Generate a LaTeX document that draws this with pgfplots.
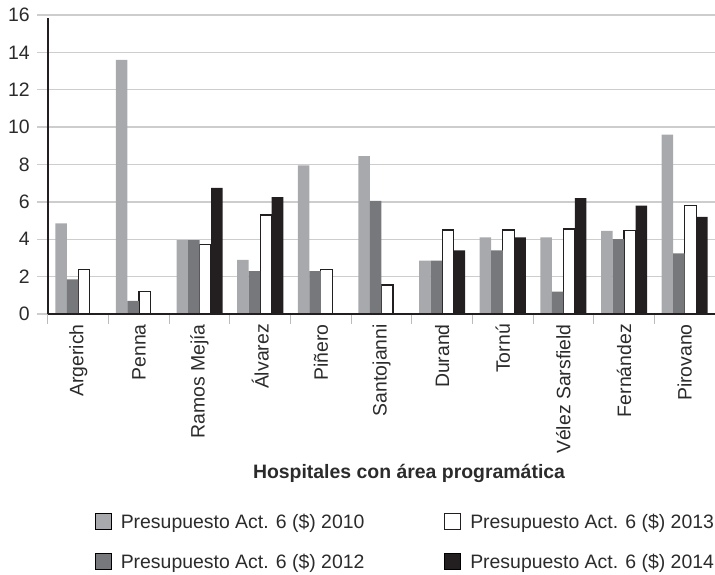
\documentclass[border=0pt]{standalone}
\usepackage{fontspec}
\setmainfont{Liberation Sans}
\setsansfont{Liberation Sans}
\usepackage{pgfplots}
\pgfplotsset{compat=1.18}
\definecolor{cA}{HTML}{A7A9AC}
\definecolor{cB}{HTML}{77787B}
\definecolor{cD}{HTML}{231F20}
\definecolor{gridc}{HTML}{CDCDCD}
\definecolor{tickc}{HTML}{BBBBBB}
\definecolor{txt}{HTML}{2B2B2B}
\newcommand{\lblfont}{\fontsize{19.5}{23}\selectfont}
\pgfplotsset{sqlegend/.style={legend image code/.code={\draw[##1,line width=0.8bp] (0bp,-6bp) rectangle (16bp,10bp);}}}
\begin{document}
\begin{tikzpicture}
\useasboundingbox (0,0) rectangle (715bp,575bp);
\begin{axis}[
  at={(37bp,261bp)}, anchor=south west,
  width=678bp, height=299bp, scale only axis,
  xmin=-0.681, xmax=10.5, ymin=0, ymax=16,
  clip=false,
  ybar, bar width=0.19,
  axis line style={draw=none},
  ytick={0,2,...,16},
  ymajorgrids, grid style={gridc, line width=1.3bp},
  major tick length=0pt,
  xtick={0,...,10},
  xticklabels={Argerich,Penna,Ramos Mejía,Álvarez,Piñero,Santojanni,Durand,Tornú,Vélez Sarsfield,Fernández,Pirovano},
  minor xtick={-0.5,0.5,...,10.5},
  minor tick length=10bp,
  tick align=outside, tick pos=left,
  minor tick style={tickc, line width=1bp},
  /pgf/number format/assume math mode=true,
  xticklabel style={rotate=90, anchor=east, inner sep=0pt, font=\lblfont, text=txt},
  xticklabel shift=10bp,
  yticklabel style={anchor=east, inner sep=0pt, font=\lblfont, text=txt},
  yticklabel shift=7bp,
  xlabel={Hospitales con área programática},
  xlabel style={at={(axis description cs:0.5487,-0.5485)}, anchor=base, font=\bfseries\lblfont, text=txt},
  legend columns=2,
  legend cell align=left,
  legend style={draw=none, fill=none, at={(axis description cs:0.0855,-0.6656)}, anchor=north west,
    inner sep=0pt, outer sep=0pt, font=\lblfont, text=txt, row sep=21bp,
    nodes={inner sep=0pt, text height=14bp, text depth=4bp},
    /tikz/every odd column/.append style={column sep=9bp},
    /tikz/every even column/.append style={column sep=80bp}},
]
% 2010
\addplot[fill=cA, draw=none, bar shift=-0.285, sqlegend] coordinates {
(0,4.85) (1,13.6) (2,3.95) (3,2.9) (4,7.95) (5,8.45) (6,2.85) (7,4.1) (8,4.1) (9,4.45) (10,9.6)};
\addlegendentry{Presupuesto Act. 6 (\$) 2010}
% 2013
\addplot[fill=white, draw=cD, line width=1.2bp, bar shift=0.095, sqlegend] coordinates {
(0,2.4) (1,1.2) (2,3.7) (3,5.3) (4,2.4) (5,1.55) (6,4.5) (7,4.5) (8,4.55) (9,4.45) (10,5.8)};
\addlegendentry{Presupuesto Act. 6 (\$) 2013}
% 2012
\addplot[fill=cB, draw=none, bar shift=-0.095, sqlegend] coordinates {
(0,1.85) (1,0.7) (2,3.95) (3,2.3) (4,2.3) (5,6.05) (6,2.85) (7,3.4) (8,1.2) (9,4.0) (10,3.25)};
\addlegendentry{Presupuesto Act. 6 (\$) 2012}
% 2014
\addplot[fill=cD, draw=none, bar shift=0.285, sqlegend] coordinates {
(2,6.75) (3,6.25) (6,3.4) (7,4.1) (8,6.2) (9,5.8) (10,5.2)};
\addlegendentry{Presupuesto Act. 6 (\$) 2014}
\draw[cD, line width=1.6bp] (axis cs:-0.5,0) -- (axis cs:-0.5,15.85);
\draw[cD, line width=1.6bp] (axis cs:-0.5,0) -- (axis cs:10.5,0);
\end{axis}
\end{tikzpicture}
\end{document}
